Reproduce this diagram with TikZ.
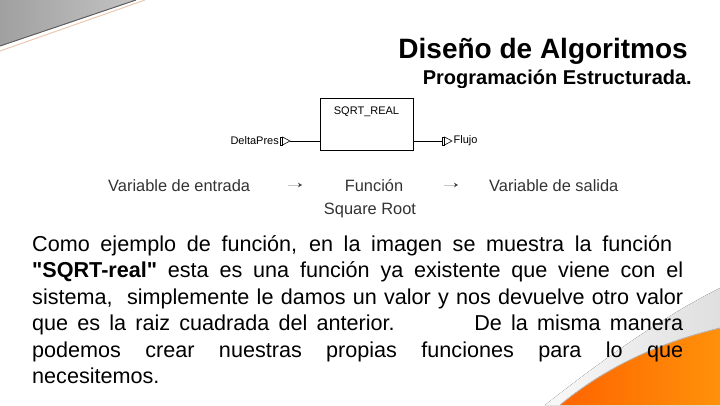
\documentclass[tikz,border=0pt]{standalone}
\usepackage{fontspec}
\setmainfont{Liberation Sans}
\definecolor{grisA}{RGB}{160,160,160}
\definecolor{grisB}{RGB}{195,195,195}
\definecolor{grisborde}{RGB}{95,95,95}
\definecolor{durazno}{RGB}{235,200,175}
\definecolor{naranjaA}{RGB}{255,100,0}
\definecolor{naranjaB}{RGB}{255,145,10}
\definecolor{textogris}{RGB}{50,50,50}
\usepackage{tikz}
\usetikzlibrary{arrows.meta}

\tikzset{
  titulo/.style={font=\fontsize{28}{30}\selectfont\bfseries, inner sep=0pt},
  subtitulo/.style={font=\fontsize{20}{22}\selectfont\bfseries, inner sep=0pt},
  etiqueta/.style={font=\fontsize{16.4}{18}\selectfont, textogris, inner sep=0pt},
  pinlbl/.style={font=\fontsize{11}{12}\selectfont, inner sep=0pt},
  pinsym/.style={line width=0.6pt},
  caja/.style={draw, line width=0.7pt, minimum width=93pt, minimum height=52pt, inner sep=0pt},
  linea/.style={font=\fontsize{21.6}{26}\selectfont, inner sep=0pt, anchor=base west},
  flecha/.style={-{Stealth[length=4pt, width=4.5pt, color=black!75]}, gray!45, line width=0.6pt}
}

\begin{document}
\begin{tikzpicture}[x=1pt, y=-1pt]
            \useasboundingbox (0,0) rectangle (720,405);

            % Esquina gris
            \fill[left color=grisA, right color=grisB] (0,0) -- (136,0) -- (0,46) -- cycle;
            \draw[grisborde, line width=1pt] (0,46) -- (136,0);
            \draw[durazno, line width=1pt] (0,51) -- (145,0);

            % Esquina naranja
            \fill[left color=gray!5, right color=gray!25] (545,405) .. controls (600,362) and (660,318) .. (720,288)
                -- (720,328) .. controls (650,345) and (600,372) .. (560,405) -- cycle;
            \fill[left color=naranjaA, right color=naranjaB] (560,405) .. controls (600,372) and (650,345) .. (720,328)
                -- (720,405) -- cycle;
            \draw[gray!55, line width=0.8pt] (560,405) .. controls (600,372) and (650,345) .. (720,328);

            % Titulos
            \node[titulo, anchor=base east] (tit) at (688,58) {Diseño de Algoritmos};
            \begin{scope}
                \clip (0,0) rectangle (720,87.5);
                \node[subtitulo, anchor=base east] (sub) at (692,84.5) {Programación Estructurada.};
            \end{scope}

            % Bloque de funcion
            \node[caja] (box) at (366.5,124) {};
            \node[pinlbl, below=9pt] (boxname) at (box.north) {SQRT\_REAL};

            % Entrada
            \coordinate (pinE) at (280,141);
            \draw[pinsym] (pinE) ++(2.5,-4) -- ++(-2.5,0) -- ++(0,8) -- ++(2.5,0);
            \draw[pinsym] (pinE) ++(2.5,-4) -- ++(7.5,4) coordinate (pinEtip) -- ++(-7.5,4) -- cycle;
            \node[pinlbl, anchor=east] (delta) at ([xshift=-1pt]pinE) {DeltaPres};
            \draw[line width=0.7pt] (pinEtip) -- (box.west |- pinEtip);

            % Salida
            \coordinate (pinS) at (442,141);
            \draw[line width=0.7pt] (box.east |- pinS) -- (pinS);
            \draw[pinsym] (pinS) ++(2.5,-4) -- ++(-2.5,0) -- ++(0,8) -- ++(2.5,0);
            \draw[pinsym] (pinS) ++(2.5,-4) -- ++(7.5,4) coordinate (pinStip) -- ++(-7.5,4) -- cycle;
            \node[pinlbl, anchor=west] (flujo) at ([xshift=1.5pt]pinStip) {Flujo};

            % Etiquetas
            \node[etiqueta, anchor=base west] (vent) at (108,191) {Variable de entrada};
            \node[etiqueta, anchor=base] (func) at (374,191) {Función};
            \node[etiqueta, anchor=base west] (vsal) at (489,191) {Variable de salida};
            \node[etiqueta, anchor=base] (sqrt) at (370,214) {Square Root};
            \coordinate (f1a) at (288,185);
            \coordinate (f1b) at (302,185);
            \coordinate (f2a) at (444,185);
            \coordinate (f2b) at (458,185);
            \draw[flecha] (f1a) -- (f1b);
            \draw[flecha] (f2a) -- (f2b);

            % Texto
            \node[linea] (l1) at (32,251) {\makebox[640pt][s]{Como ejemplo de función, en la imagen se muestra la función}};
            \node[linea] (l2) at (32,277.5) {\makebox[651pt][s]{\textbf{\textquotedbl SQRT-real\textquotedbl} esta es una función ya existente que viene con el}};
            \node[linea] (l3) at (32,304) {\makebox[651pt][s]{sistema,\ \ simplemente le damos un valor y nos devuelve otro valor}};
            \node[linea] (l4) at (32,330.5) {\makebox[651pt][s]{que es la raiz cuadrada del anterior.\hspace{62pt} De la misma manera}};
            \node[linea] (l5) at (32,357) {\makebox[651pt][s]{podemos crear nuestras propias funciones para lo que}};
            \node[linea] (l6) at (32,383.5) {necesitemos.};
        \end{tikzpicture}
\end{document}
